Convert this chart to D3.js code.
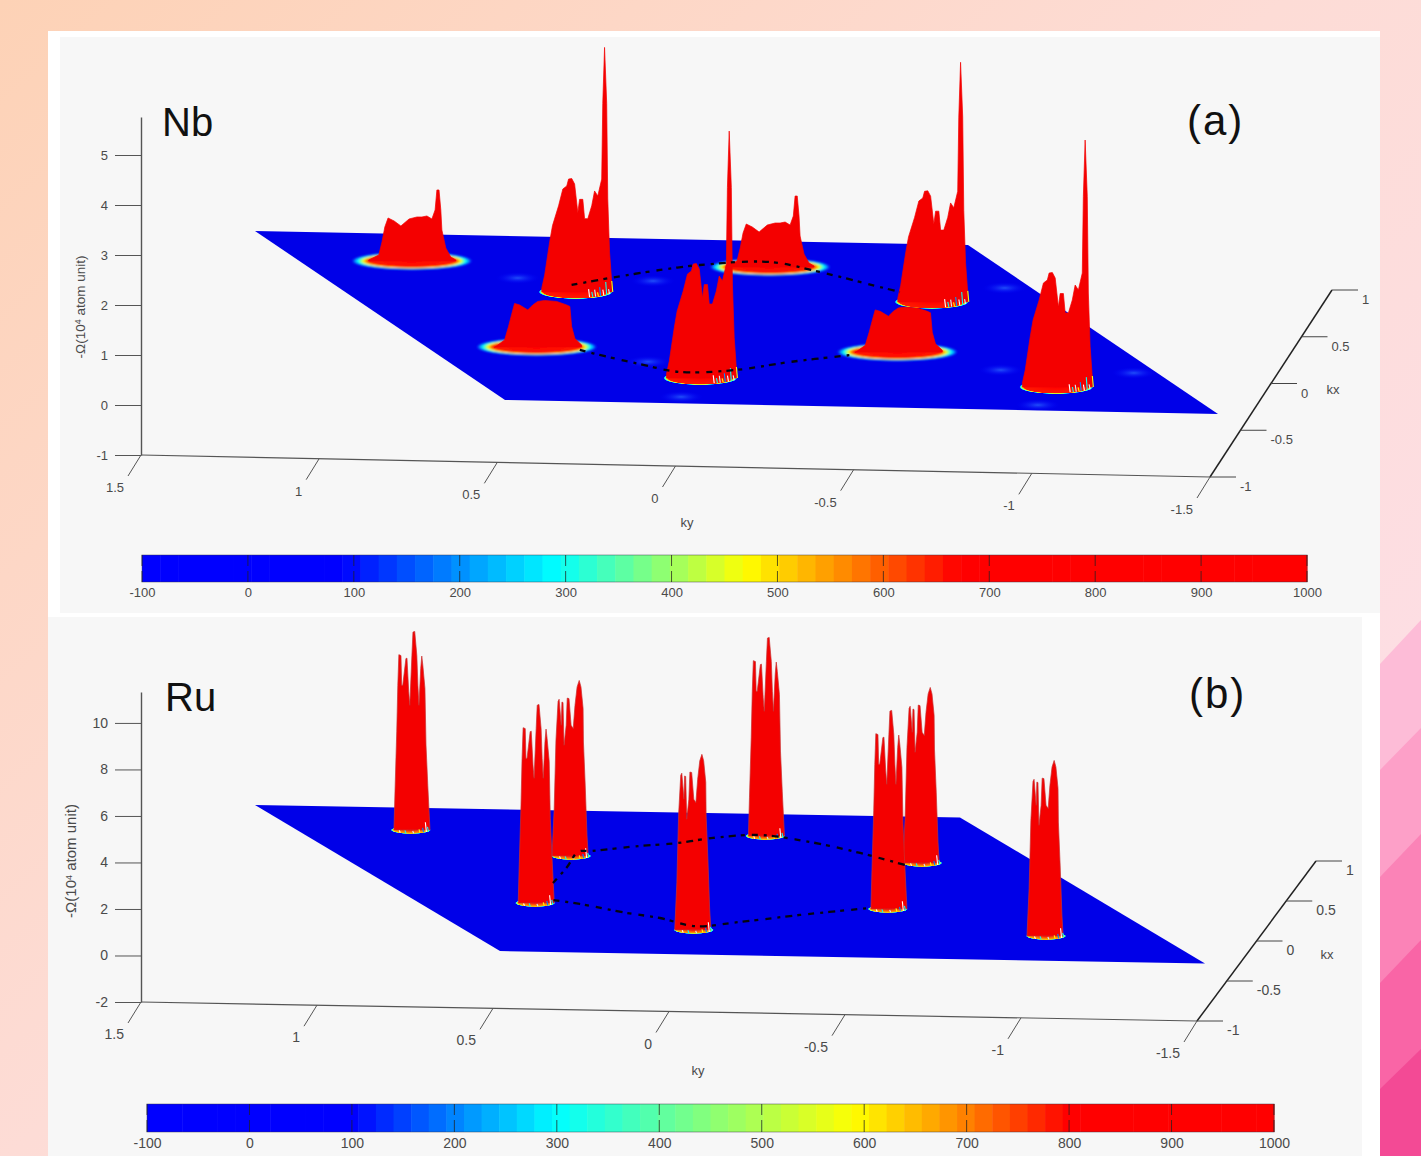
<!DOCTYPE html>
<html>
<head>
<meta charset="utf-8">
<title>Berry curvature, Nb and Ru</title>
<script src="https://d3js.org/d3.v7.min.js"></script>
<style>
  html, body { margin: 0; padding: 0; background: #fff; }
  svg { display: block; font-family: "Liberation Sans", Arial, sans-serif; }
  .tick text, .lab { fill: #4a4a4a; }
  .big { fill: #111; font-size: 40px; }
</style>
</head>
<body>
<svg width="1421" height="1156"></svg>
<script>
// colour bar
const cbTicks = [-100, 0, 100, 200, 300, 400, 500, 600, 700, 800, 900, 1000];
const jetColors = ["#0000ff", "#0000ff", "#0090ff", "#00ffff", "#80ff80", "#ffff00", "#ff8000", "#ff0000", "#ff0000"];
const nbJetValues = [-100, 90, 200, 290, 380, 470, 570, 670, 1000];
const ruJetValues = [-100, 100, 210, 300, 440, 590, 700, 800, 1000];

// axes
const kyTicks = [1.5, 1, 0.5, 0, -0.5, -1, -1.5];
const kxTicks = [-1, -0.5, 0, 0.5, 1];
const nbZTicks = [-1, 0, 1, 2, 3, 4, 5];
const ruZTicks = [-2, 0, 2, 4, 6, 8, 10];

// peak centres in the zone
const nbPeakKy = [0.679, 0.334, 0.686, -0.33, 0.342, -0.334, -0.652, -0.648];
const nbPeakKx = [0.66, 0.334, -0.358, 0.672, -0.686, -0.334, 0.298, -0.71];
const nbPeakShape = ["flatSpike", "tall", "flat", "flatSpike", "tall", "flat", "tall", "tall"];
const nbPeakScale = [1, 0.99, 1, 1, 1, 0.97, 0.97, 1];
const ruPeakKy = [0.667, 0.326, 0.662, -0.34, 0.33, -0.34, -0.666, -0.67];
const ruPeakKx = [0.686, 0.359, -0.314, 0.69, -0.654, -0.31, 0.348, -0.652];
const ruPeakShape = ["crown", "lean", "crown", "crown", "lean", "crown", "lean", "lean"];
const ruPeakScale = [1, 1, 1, 1, 1, 1, 1, 1];

// peak outlines: ky offset from centre, height in 10^4 atom units
const flatSpikeDk = [0.121, 0.093, 0.084, 0.076, 0.067, 0.05, 0.031, 0.008, -0.014, -0.028, -0.042, -0.056, -0.065, -0.07, -0.076, -0.081, -0.084, -0.095, -0.109, -0.123];
const flatSpikeZ = [0.04, 0.14, 0.4, 0.7, 0.88, 0.82, 0.72, 0.86, 0.9, 0.9, 0.92, 0.86, 1.04, 1.44, 1.44, 1.04, 0.64, 0.28, 0.1, 0.04];
const flatDk = [0.118, 0.09, 0.079, 0.067, 0.062, 0.048, 0.025, 0.011, -0.003, -0.022, -0.056, -0.084, -0.093, -0.098, -0.107, -0.126];
const flatZ = [0.01, 0.16, 0.43, 0.76, 0.89, 0.86, 0.76, 0.86, 0.93, 0.95, 0.93, 0.86, 0.83, 0.43, 0.19, 0.06];
const tallDk = [0.095, 0.087, 0.073, 0.065, 0.048, 0.036, 0.025, 0.02, 0.011, 0.003, -0.006, -0.011, -0.02, -0.025, -0.034, -0.045, -0.053, -0.062, -0.073, -0.076, -0.081, -0.087, -0.09, -0.095, -0.101];
const tallZ = [0.08, 0.34, 1.01, 1.34, 1.74, 2.08, 2.14, 2.28, 2.29, 2.18, 1.6, 1.87, 1.87, 1.48, 1.48, 1.74, 2.04, 1.94, 2.28, 3.81, 4.94, 3.81, 1.88, 0.81, 0.2];
const crownDk = [0.048, 0.045, 0.04, 0.037, 0.034, 0.028, 0.026, 0.023, 0.014, 0.011, 0.006, 0.003, -0.003, -0.006, -0.011, -0.017, -0.02, -0.023, -0.028, -0.031, -0.034, -0.04, -0.043, -0.048, -0.054];
const crownZ = [0, 1.64, 4.22, 6.22, 7.54, 7.5, 6.22, 6.22, 7.37, 7.39, 5.94, 5.36, 7.5, 8.51, 8.54, 7.5, 6.22, 5.36, 6.94, 7.48, 7.08, 6.09, 3.65, 1.93, 0.08];
const leanDk = [0.054, 0.048, 0.043, 0.037, 0.034, 0.028, 0.026, 0.023, 0.02, 0.014, 0.011, 0.006, 0, -0.006, -0.011, -0.017, -0.023, -0.028, -0.034, -0.035, -0.04, -0.045, -0.048];
const leanZ = [0.04, 2.04, 4.98, 6.65, 6.74, 5.62, 6.62, 6.6, 4.76, 5.62, 6.79, 6.77, 5.62, 5.48, 6.48, 7.27, 7.55, 7.27, 6.35, 4.9, 3.05, 0.9, 0.12];

// small coloured fringes at the foot of the narrow peaks
const tallFringeDk = [-0.039, -0.048, -0.056, -0.064, -0.07, -0.079, -0.087, -0.095, -0.104];
const tallFringeZ = [0.16, 0.1, 0.14, 0.08, 0.18, 0.12, 0.26, 0.1, 0.22];
const ruFringeDk = [0.03, 0.014, -0.008, -0.026, -0.036, -0.044, -0.05];
const ruFringeZ = [0.1, 0.12, 0.1, 0.15, 0.2, 0.42, 0.2];

// dashed contour
const nbLowKy = [0.57, 0.534, 0.456, 0.376, 0.208, 0.014, -0.19];
const nbLowKx = [-0.372, -0.428, -0.53, -0.616, -0.58, -0.468, -0.37];
const nbHighKy = [0.316, 0.176, -0.004, -0.14, -0.354, -0.456, -0.53, -0.602];
const nbHighKx = [0.418, 0.512, 0.622, 0.692, 0.746, 0.636, 0.524, 0.41];
const ruLowKy = [0.594, 0.536, 0.442, 0.37, 0.308, 0.156, -0.054, -0.292];
const ruLowKx = [-0.268, -0.316, -0.432, -0.494, -0.6, -0.53, -0.416, -0.3];
const ruHighKy = [0.512, 0.392, 0.286, 0.238, 0.076, -0.048, -0.178, -0.33, -0.442, -0.534, -0.606];
const ruHighKx = [-0.028, 0.202, 0.418, 0.436, 0.518, 0.568, 0.65, 0.702, 0.616, 0.474, 0.316];

// faint spots on the Nb plane
const nbSpotKy = [0.442, 0.064, 0.478, -0.922, -0.56, -0.932, -0.518, 0.424];
const nbSpotKx = [0.49, 0.486, -0.92, 0.485, -0.516, -0.52, -0.934, -0.5];

// glow round the peak foot: fraction of radius, colour bar value
const flatRingAt = [0, 0.72, 0.76, 0.8, 0.84, 0.88, 0.94, 1];
const flatRingVal = [1000, 650, 560, 470, 380, 290, 190, 90];
const tallRingAt = [0, 0.87, 0.9, 0.93, 0.96, 0.985, 1];
const tallRingVal = [1000, 650, 520, 430, 300, 190, 90];

const svg = d3.select("svg");
const defs = svg.append("defs");
defs.append("filter").attr("id", "soft").attr("x", "-10%").attr("y", "-30%").attr("width", "120%").attr("height", "160%")
  .append("feGaussianBlur").attr("stdDeviation", 1);

// page background
const bgGrad = defs.append("linearGradient").attr("id", "bg")
  .attr("x1", 0).attr("y1", 0).attr("x2", 1).attr("y2", 0.9);
bgGrad.append("stop").attr("offset", 0).attr("stop-color", "#fdd2b6");
bgGrad.append("stop").attr("offset", 0.5).attr("stop-color", "#fddcd6");
bgGrad.append("stop").attr("offset", 1).attr("stop-color", "#fddfea");
svg.append("rect").attr("width", 1421).attr("height", 1156).attr("fill", "url(#bg)");

const bandColors = ["#fdbcd7", "#fda0c8", "#fb83b7", "#f965a6", "#f34a95"];
const bandTopY = [620, 728, 834, 940, 1049];
const bandLeftY = [664, 770, 877, 983, 1089];
svg.selectAll(".band").data(bandColors).join("path")
  .attr("class", "band")
  .attr("fill", d => d)
  .attr("d", (d, i) => `M1380,${bandLeftY[i]}L1421,${bandTopY[i]}V1156H1380Z`);

svg.append("rect").attr("x", 48).attr("y", 31).attr("width", 1332).attr("height", 1125).attr("fill", "#fff");
svg.append("rect").attr("x", 60).attr("y", 37).attr("width", 1320).attr("height", 576).attr("fill", "#f7f7f7");
svg.append("rect").attr("x", 48).attr("y", 617).attr("width", 1314).attr("height", 539).attr("fill", "#f7f7f7");

const shapes = {
  flatSpike: { dk: flatSpikeDk, z: flatSpikeZ },
  flat: { dk: flatDk, z: flatZ },
  tall: { dk: tallDk, z: tallZ },
  crown: { dk: crownDk, z: crownZ },
  lean: { dk: leanDk, z: leanZ }
};

function ringGradient(id, at, val, jet) {
  const g = defs.append("radialGradient").attr("id", id);
  at.forEach((a, i) => {
    g.append("stop").attr("offset", a).attr("stop-color", jet(val[i]))
      .attr("stop-opacity", i === at.length - 1 ? 0 : 1);
  });
}

function drawPanel(p) {
  const g = svg.append("g");
  const jet = d3.scaleLinear().domain(p.jetValues).range(jetColors).interpolate(d3.interpolateRgb);

  // plane projection
  const xKy = d3.scaleLinear().domain([1, -1]).range([0, p.plane.dx]);
  const yKy = d3.scaleLinear().domain([1, -1]).range([0, p.plane.dy]);
  const xKx = d3.scaleLinear().domain([-1, 1]).range([p.plane.frontX, p.plane.backX]);
  const yKx = d3.scaleLinear().domain([-1, 1]).range([p.plane.frontY, p.plane.backY]);
  const px = (ky, kx) => xKy(ky) + xKx(kx);
  const py = (ky, kx) => yKy(ky) + yKx(kx);

  const z = d3.scaleLinear().domain(p.zDomain).range(p.zRange);
  const rise = v => z(0) - z(v);

  // z axis
  const zAxis = g.append("g").attr("transform", `translate(141,0)`)
    .call(d3.axisLeft(z).tickValues(p.zTicks).tickSize(26).tickSizeOuter(0).tickPadding(7).tickFormat(d => d));
  zAxis.selectAll("text").style("font-size", p.fontSize + "px").style("font-family", "inherit");
  zAxis.selectAll("line").attr("stroke", "#555");
  zAxis.select(".domain").attr("stroke", "#555").attr("stroke-width", 1.4);

  g.append("text").attr("class", "lab")
    .attr("transform", `translate(${p.zTitle[0]},${p.zTitle[1]}) rotate(-90)`)
    .attr("text-anchor", "middle").style("font-size", p.zTitleSize + "px")
    .call(t => {
      t.append("tspan").text("-Ω(10");
      t.append("tspan").attr("dy", -4).style("font-size", "9px").text("4");
      t.append("tspan").attr("dy", 4).text(" atom unit)");
    });

  // ky axis
  const axX = d3.scaleLinear().domain([1.5, -1.5]).range([141, p.corner[0]]);
  const axY = d3.scaleLinear().domain([1.5, -1.5]).range([p.zRange[0], p.corner[1]]);
  g.append("line").attr("x1", axX(1.5)).attr("y1", axY(1.5)).attr("x2", axX(-1.5)).attr("y2", axY(-1.5))
    .attr("stroke", "#555").attr("stroke-width", 1.2);
  g.selectAll(".kyt").data(kyTicks).join("line").attr("class", "kyt")
    .attr("x1", d => axX(d)).attr("y1", d => axY(d))
    .attr("x2", d => axX(d) - 13).attr("y2", d => axY(d) + 21)
    .attr("stroke", "#555");
  g.selectAll(".kyl").data(kyTicks).join("text").attr("class", "kyl lab")
    .attr("x", d => axX(d) - 17).attr("y", d => axY(d) + 37)
    .attr("text-anchor", "end").style("font-size", p.fontSize + "px")
    .text(d => d);
  g.append("text").attr("class", "lab").attr("x", p.kyLabel[0]).attr("y", p.kyLabel[1])
    .attr("text-anchor", "middle").style("font-size", "13px").text("ky");

  // kx axis
  const kxX = d3.scaleLinear().domain([-1, 1]).range([p.corner[0], p.kxTop[0]]);
  const kxY = d3.scaleLinear().domain([-1, 1]).range([p.corner[1], p.kxTop[1]]);
  g.append("line").attr("x1", kxX(-1)).attr("y1", kxY(-1)).attr("x2", kxX(1)).attr("y2", kxY(1))
    .attr("stroke", "#222").attr("stroke-width", 1.5);
  g.selectAll(".kxt").data(kxTicks).join("line").attr("class", "kxt")
    .attr("x1", d => kxX(d)).attr("y1", d => kxY(d))
    .attr("x2", d => kxX(d) + 26).attr("y2", d => kxY(d))
    .attr("stroke", "#444");
  g.selectAll(".kxl").data(kxTicks).join("text").attr("class", "kxl lab")
    .attr("x", d => kxX(d) + 30).attr("y", d => kxY(d) + 14)
    .style("font-size", p.fontSize + "px").text(d => d);
  g.append("text").attr("class", "lab").attr("x", p.kxLabel[0]).attr("y", p.kxLabel[1])
    .attr("text-anchor", "middle").style("font-size", "13px").text("kx");

  // plane
  g.append("path").attr("fill", p.planeColor)
    .attr("d", d3.line()([[px(1, -1), py(1, -1)], [px(-1, -1), py(-1, -1)], [px(-1, 1), py(-1, 1)], [px(1, 1), py(1, 1)]]) + "Z");

  // spots
  if (p.spotKy) {
    const sg = defs.append("radialGradient").attr("id", p.id + "spot");
    sg.append("stop").attr("offset", 0).attr("stop-color", "#2a68ff").attr("stop-opacity", 0.75);
    sg.append("stop").attr("offset", 1).attr("stop-color", "#0000ff").attr("stop-opacity", 0);
    g.selectAll(".spot").data(p.spotKy).join("ellipse").attr("class", "spot")
      .attr("cx", (d, i) => px(d, p.spotKx[i])).attr("cy", (d, i) => py(d, p.spotKx[i]))
      .attr("rx", 22).attr("ry", 6).attr("fill", `url(#${p.id}spot)`);
  }

  // peaks, back to front
  ringGradient(p.id + "flat", flatRingAt, flatRingVal, jet);
  ringGradient(p.id + "tall", tallRingAt, tallRingVal, jet);
  const order = d3.range(p.peakKy.length).sort((a, b) => p.peakKx[b] - p.peakKx[a]);
  const area = d3.area().x(d => d[0]).y1(d => d[1]);

  order.forEach(i => {
    const ky = p.peakKy[i], kx = p.peakKx[i], name = p.peakShape[i];
    const cx = px(ky, kx), cy = py(ky, kx);
    const s = shapes[name];
    const isFlat = name === "flat" || name === "flatSpike";
    const foot = isFlat ? p.footFlat : p.footTall;
    g.append("ellipse").attr("cx", cx).attr("cy", cy + foot.dy)
      .attr("rx", foot.rx).attr("ry", foot.ry)
      .attr("fill", `url(#${p.id}${isFlat ? "flat" : "tall"})`)
      .attr("filter", isFlat ? "url(#soft)" : null);
    const pts = s.dk.map((dk, j) => [px(ky + dk, kx), cy - rise(s.z[j] * p.peakScale[i])]);
    g.append("path").attr("fill", "#f40000").attr("stroke", p.rim).attr("stroke-width", 0.7)
      .attr("d", area.y0(cy + foot.dy)(pts));
    if (!isFlat) {
      const fringeColors = ["#fff", jet(300), "#cfefff", jet(p.fringeWarm), jet(200)];
      p.fringeDk.forEach((dk, j) => {
        const fx = px(ky + dk, kx);
        const ratio = Math.min(1, Math.abs(fx - cx) / foot.rx);
        const fy = cy + foot.dy + foot.ry * Math.sqrt(1 - ratio * ratio) * 0.8;
        g.append("line").attr("x1", fx).attr("x2", fx - 1)
          .attr("y1", fy).attr("y2", fy - rise(p.fringeZ[j]))
          .attr("stroke", fringeColors[j % fringeColors.length]).attr("stroke-width", 1.1);
      });
    }
  });

  // dashed contour on top
  const contour = d3.line().curve(d3.curveCatmullRom);
  [[p.lowKy, p.lowKx], [p.highKy, p.highKx]].forEach(([kys, kxs]) => {
    g.append("path").attr("fill", "none").attr("stroke", "#050510")
      .attr("stroke-width", 2.3).attr("stroke-dasharray", "6 6 3 5 7 5 4 7")
      .attr("d", contour(kys.map((d, i) => [px(d, kxs[i]), py(d, kxs[i])])));
  });

  // colour bar
  const cb = d3.scaleLinear().domain([-100, 1000]).range(p.cbX);
  const step = 1100 / 64;
  g.selectAll(".cell").data(d3.range(64)).join("rect").attr("class", "cell")
    .attr("x", d => cb(-100 + d * step)).attr("y", p.cbY[0])
    .attr("width", cb(step) - cb(0) + 0.5).attr("height", p.cbY[1] - p.cbY[0])
    .attr("fill", d => jet(-100 + (d + 0.5) * step));
  g.append("rect").attr("x", p.cbX[0]).attr("y", p.cbY[0])
    .attr("width", p.cbX[1] - p.cbX[0]).attr("height", p.cbY[1] - p.cbY[0])
    .attr("fill", "none").attr("stroke", "#334").attr("stroke-opacity", 0.45);
  g.selectAll(".cbt").data(cbTicks).join("line").attr("class", "cbt")
    .attr("x1", d => cb(d)).attr("x2", d => cb(d))
    .attr("y1", p.cbY[0]).attr("y2", p.cbY[1])
    .attr("stroke", "#222").attr("stroke-opacity", 0.75).attr("stroke-dasharray", "11 5 12");
  const cbAxis = g.append("g").attr("transform", `translate(0,${p.cbY[1]})`)
    .call(d3.axisBottom(cb).tickValues(cbTicks).tickSize(0).tickPadding(p.cbPad).tickFormat(d => d));
  cbAxis.select(".domain").remove();
  cbAxis.selectAll("text").style("font-size", p.fontSize + "px").style("font-family", "inherit");

  // panel titles
  g.append("text").attr("class", "big").attr("x", p.metal[0]).attr("y", p.metal[1]).text(p.metalName);
  g.append("text").attr("class", "big").attr("x", p.letter[0]).attr("y", p.letter[1])
    .style("font-size", "42px").style("letter-spacing", "2px").text(p.letterName);
}

drawPanel({
  id: "nb", metalName: "Nb", letterName: "(a)", metal: [162, 136], letter: [1187, 135],
  plane: { dx: 713, dy: 14, frontX: 505, backX: 255, frontY: 400, backY: 231 }, planeColor: "#0000e8",
  zDomain: [-1, 5.76], zRange: [455, 117], zTicks: nbZTicks, zTitle: [85, 307], zTitleSize: 13.5, fontSize: 13,
  corner: [1210, 477], kxTop: [1332, 290], kyLabel: [687, 527], kxLabel: [1333, 394],
  peakKy: nbPeakKy, peakKx: nbPeakKx, peakShape: nbPeakShape, peakScale: nbPeakScale,
  footFlat: { dy: -1, rx: 61, ry: 9 }, footTall: { dy: 0, rx: 37, ry: 7 }, rim: "#f40000",
  fringeDk: tallFringeDk, fringeZ: tallFringeZ, fringeWarm: 470,
  lowKy: nbLowKy, lowKx: nbLowKx, highKy: nbHighKy, highKx: nbHighKx,
  spotKy: nbSpotKy, spotKx: nbSpotKx,
  jetValues: nbJetValues, cbX: [142, 1307], cbY: [555, 582], cbPad: 6
});

drawPanel({
  id: "ru", metalName: "Ru", letterName: "(b)", metal: [165, 711], letter: [1189, 708],
  plane: { dx: 705, dy: 12.5, frontX: 500, backX: 255, frontY: 951, backY: 805 }, planeColor: "#0000e8",
  zDomain: [-2, 11.33], zRange: [1002, 692], zTicks: ruZTicks, zTitle: [76, 861], zTitleSize: 15, fontSize: 14,
  corner: [1197, 1021], kxTop: [1316, 861], kyLabel: [698, 1075], kxLabel: [1327, 959],
  peakKy: ruPeakKy, peakKx: ruPeakKx, peakShape: ruPeakShape, peakScale: ruPeakScale,
  footFlat: { dy: 0, rx: 20, ry: 4 }, footTall: { dy: 0, rx: 20, ry: 4 }, rim: "#c83030",
  fringeDk: ruFringeDk, fringeZ: ruFringeZ, fringeWarm: 590,
  lowKy: ruLowKy, lowKx: ruLowKx, highKy: ruHighKy, highKx: ruHighKx,
  jetValues: ruJetValues, cbX: [147, 1274], cbY: [1104, 1132], cbPad: 6
});
</script>
</body>
</html>
